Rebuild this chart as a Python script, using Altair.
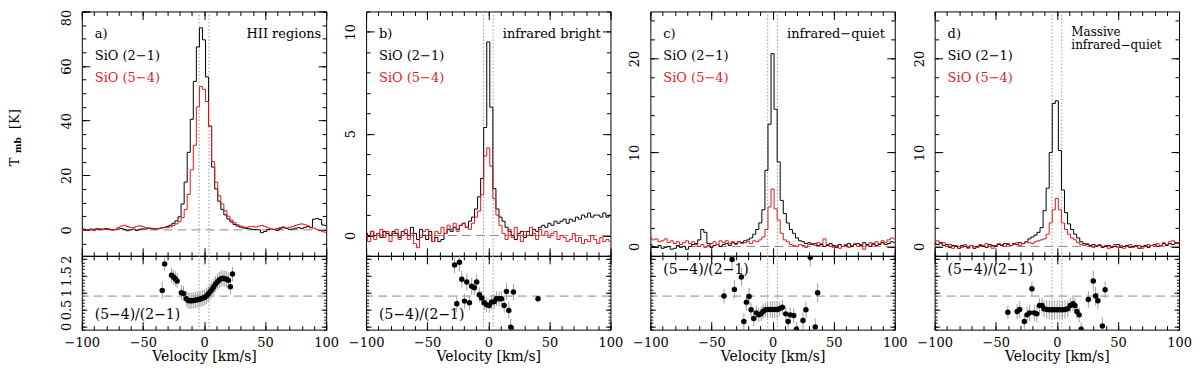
import altair as alt
import pandas as pd

# ---------------- data ----------------
VEL = [-100, -97.5, -95, -92.5, -90, -87.5, -85, -82.5, -80, -77.5, -75, -72.5,
       -70, -67.5, -65, -62.5, -60, -57.5, -55, -52.5, -50, -47.5, -45, -42.5,
       -40, -37.5, -35, -32.5, -30, -27.5, -25, -22.5, -20, -17.5, -15, -12.5,
       -10, -7.5, -5, -2.5, 0, 2.5, 5, 7.5, 10, 12.5, 15, 17.5, 20, 22.5, 25, 27.5,
       30, 32.5, 35, 37.5, 40, 42.5, 45, 47.5, 50, 52.5, 55, 57.5, 60, 62.5, 65, 67.5,
       70, 72.5, 75, 77.5, 80, 82.5, 85, 87.5, 90, 92.5, 95, 97.5, 100]

A21 = [0.4, 0.2, 0.1, 0.3, 0.2, 0.4, 0.1, 0.3, 0.5, 0.2, 0.0, 0.1,
       0.3, 0.5, 0.2, -0.3, 0.0, 0.3, -0.2, 0.2, 0.4, 0.3, 0.6, 0.4,
       0.3, 0.5, 0.7, 0.9, 1.2, 1.7, 2.4, 3.3, 4.8, 9.5, 17.5, 28.4,
       40.5, 54.4, 67.0, 74.0, 69.6, 56.0, 38.0, 23.0, 15.0, 10.5, 7.5, 5.5,
       4.0, 2.9, 2.0, 1.4, 1.0, 0.7, 0.5, 0.4, 0.2, 0.1, 0.0, -1.0,
       -0.6, 0.1, 0.3, 0.2, -0.2, 0.4, 0.9, 0.5, 0.2, 0.3, 0.6, 0.8,
       0.5, 0.9, 1.2, 0.8, 3.9, 4.2, 3.8, 1.8, 1.6]
A54 = [0.0, -0.2, 0.1, 0.0, -0.3, 0.2, 0.4, 0.1, 0.1, 0.3, 0.0, 0.2,
       0.9, 1.4, 1.7, 1.2, 0.8, 0.9, 1.3, 1.5, 1.2, 0.8, 0.7, 0.6,
       0.5, 0.4, 0.6, 0.8, 0.8, 1.1, 1.6, 2.2, 3.0, 4.5, 7.5, 13.0,
       22.0, 31.0, 45.0, 52.5, 51.5, 47.0, 38.0, 25.0, 17.5, 12.5, 9.5, 7.0,
       5.0, 3.6, 2.6, 1.9, 1.4, 1.1, 0.9, 1.2, 1.3, 1.0, 1.4, 1.6,
       1.3, 0.8, 0.3, 0.2, 0.5, 0.9, 1.1, 0.7, 0.9, 1.2, 1.6, 2.0,
       2.2, 1.9, 1.5, 1.0, 0.6, 0.2, -0.3, -0.7, -0.9]

B21 = [0.1, 0.0, 0.2, 0.0, 0.1, -0.1, 0.2, 0.1, 0.0, 0.2, 0.1, -0.1,
       0.2, 0.1, 0.0, 0.4, 0.1, -0.2, 0.3, 0.0, -0.2, 0.2, -0.3, -0.1,
       -0.3, -0.2, 0.1, 0.3, 0.2, 0.4, 0.3, 0.5, 0.6, 0.4, 0.7, 0.9,
       1.3, 1.9, 2.8, 5.3, 9.5, 6.3, 2.3, 1.3, 0.9, 0.7, 0.4, 0.2,
       0.0, -0.2, 0.1, 0.2, -0.1, 0.2, 0.0, 0.3, 0.2, 0.4, 0.5, 0.4,
       0.6, 0.5, 0.7, 0.6, 0.7, 0.8, 0.6, 0.8, 0.7, 0.9, 0.8, 1.0,
       0.9, 1.1, 0.9, 1.0, 1.0, 0.9, 1.1, 0.9, 1.0]
B54 = [0.0, -0.3, 0.2, -0.2, 0.1, 0.3, -0.1, 0.2, -0.3, 0.1, 0.3, -0.2,
       0.0, 0.3, -0.2, 0.1, -0.4, -0.6, -0.1, 0.2, 0.3, 0.0, -0.3, 0.2,
       0.1, 0.4, 0.1, 0.5, 0.3, 0.6, 0.2, 0.5, 0.6, 0.4, 0.3, 0.6,
       0.9, 1.2, 2.0, 3.9, 4.3, 3.4, 1.8, 1.0, 0.5, 0.1, -0.2, 0.3,
       -0.1, 0.4, 0.0, -0.3, 0.2, 0.0, 0.4, 0.1, -0.2, 0.3, 0.0, 0.2,
       -0.1, 0.1, 0.2, -0.2, 0.0, -0.1, -0.3, -0.2, 0.1, -0.3, -0.1, -0.4,
       -0.2, -0.3, 0.0, -0.2, -0.4, -0.1, -0.3, -0.2, -0.3]

C21 = [0.2, 0.0, -0.1, 0.1, -0.2, -0.1, 0.0, -0.3, -0.2, 0.1, -0.1, 0.0,
       -0.3, 0.0, 0.2, 0.3, 0.7, 1.8, 1.5, 0.3, -0.1, 0.1, 0.2, 0.0,
       0.2, 0.3, 0.1, 0.4, 0.3, 0.5, 0.4, 0.6, 0.7, 0.9, 1.3, 1.8,
       2.5, 3.9, 8.1, 13.0, 20.5, 14.6, 9.0, 4.9, 3.5, 2.5, 1.8, 1.4,
       0.9, 0.6, 0.5, 0.3, 0.4, 0.2, 0.3, 0.1, 0.2, 0.0, 0.1, 0.3,
       0.1, -0.1, 0.2, 0.0, 0.1, 0.3, 0.0, 0.2, 0.3, 0.1, 0.4, 0.2,
       0.0, 0.3, 0.1, 0.2, 0.4, 0.2, 0.3, 0.5, 0.4]
C54 = [0.9, 0.7, 0.8, 0.5, 0.6, 0.8, 0.4, 0.6, 0.3, 0.5, 0.2, 0.4,
       0.6, 0.3, 0.5, 0.2, 0.0, 0.2, -0.1, 0.1, 0.3, 0.5, 0.2, 0.6,
       0.4, 0.6, 0.3, 0.5, 0.2, 0.5, 0.3, 0.4, 0.5, 0.3, 0.6, 0.5,
       0.7, 1.0, 1.8, 4.2, 6.1, 4.0, 2.8, 1.4, 0.7, 0.5, 0.2, 0.1,
       0.0, 0.2, 0.1, -0.1, 0.2, 0.3, 0.1, 0.4, 0.3, 0.8, 0.2, 0.0,
       -0.1, 0.1, -0.2, 0.0, 0.2, -0.1, 0.1, 0.3, 0.0, 0.2, -0.3, 0.1,
       0.4, 0.2, 0.5, 0.3, 0.6, 0.4, 0.7, 0.9, 0.8]

D21 = [0.3, 0.2, 0.4, 0.1, 0.2, -0.1, 0.1, 0.0, -0.2, 0.1, 0.0, -0.1,
       0.1, -0.2, 0.0, 0.1, 0.0, -0.1, 0.2, 0.1, 0.0, 0.2, 0.1, 0.3,
       0.2, 0.1, 0.3, 0.2, 0.4, 0.3, 0.5, 0.8, 1.0, 1.2, 1.5, 2.0,
       3.8, 6.2, 10.0, 15.2, 15.5, 10.2, 6.0, 3.6, 2.4, 1.8, 1.3, 0.9,
       0.5, 0.3, 0.2, 0.1, 0.2, 0.0, 0.1, -0.1, 0.0, 0.1, -0.1, 0.0,
       0.2, -0.1, 0.0, 0.1, -0.1, 0.0, 0.1, -0.2, 0.0, 0.1, -0.1, 0.1,
       0.2, 0.0, 0.1, 0.3, 0.1, 0.3, 0.2, 0.4, 0.3]
D54 = [0.5, 0.6, 0.3, 0.4, 0.0, 0.2, -0.2, 0.1, 0.0, -0.1, 0.2, -0.2,
       0.1, 0.0, -0.1, 0.2, 0.1, 0.3, 0.0, -0.2, 0.1, 0.3, 0.2, 0.0,
       0.3, 0.1, 0.2, 0.4, 0.1, 0.3, 0.5, 0.4, 0.3, 0.5, 0.6, 0.7,
       0.8, 1.3, 2.5, 3.9, 5.1, 3.9, 2.5, 1.8, 1.3, 0.9, 0.7, 0.4,
       0.2, 0.1, 0.3, 0.0, -0.1, 0.1, 0.2, 0.0, 0.1, -0.2, 0.0, 0.2,
       -0.1, 0.1, -0.2, 0.0, 0.2, -0.1, 0.0, 0.1, -0.2, 0.0, 0.2, 0.1,
       0.0, 0.3, 0.1, 0.4, 0.2, 0.5, 0.6, 0.3, 0.4]

RA_V = [-34.2, -32.2, -26.6, -25.0, -23.5, -22.0, -18.5, -16.8, -14.5, -13.0, -11.5, -10.0,
        -8.5, -7.0, -5.5, -4.0, -2.5, -1.0, 0.5, 2.0, 3.5, 5.0, 6.5, 8.0,
        9.5, 11.0, 12.5, 14.0, 15.5, 17.0, 18.5, 20.0, 21.6, 23.3]
RA_R = [1.07, 1.86, 1.52, 1.47, 1.42, 1.35, 1.00, 0.98, 0.82, 0.77, 0.76, 0.76,
        0.77, 0.78, 0.79, 0.80, 0.82, 0.84, 0.86, 0.90, 0.96, 1.03, 1.10, 1.18,
        1.26, 1.33, 1.38, 1.42, 1.43, 1.42, 1.40, 1.37, 1.18, 1.56]
RA_E = [0.25, 0.20, 0.22, 0.22, 0.22, 0.22, 0.22, 0.22, 0.24, 0.24, 0.24, 0.24,
        0.24, 0.24, 0.24, 0.24, 0.24, 0.24, 0.24, 0.24, 0.24, 0.24, 0.24, 0.24,
        0.24, 0.24, 0.24, 0.24, 0.24, 0.24, 0.24, 0.24, 0.22, 0.22]

RB_V = [-27.6, -25.8, -23.6, -21.7, -19.5, -17.6, -15.4, -13.6, -11.4, -9.5, -7.3, -5.4,
        -3.3, -1.4, 0.8, 2.7, 4.9, 6.7, 8.9, 10.8, 13.0, 14.9, 16.8, 18.4, 20.6, 40.7]
RB_R = [1.83, 0.67, 1.91, 1.40, 0.75, 1.32, 0.70, 1.19, 1.15, 1.32, 0.94, 0.84,
        0.70, 0.64, 0.62, 0.72, 0.74, 0.82, 0.82, 0.82, 0.62, 1.04, 0.47, -0.03, 1.02, 0.82]
RB_E = [0.25, 0.25, 0.28, 0.25, 0.22, 0.25, 0.22, 0.25, 0.22, 0.22, 0.22, 0.22,
        0.22, 0.22, 0.22, 0.22, 0.22, 0.22, 0.22, 0.22, 0.22, 0.25, 0.25, 0.25, 0.25, 0.0]

RC_V = [-39.8, -33.1, -31.2, -25.5, -23.5, -21.4, -19.2, -17.6, -15.4, -13.3, -11.3, -9.4,
        -7.8, -5.9, -4.1, -1.9, -0.1, 1.8, 3.7, 5.6, 8.0, 10.8, 12.7, 14.5,
        17.3, 19.5, 24.9, 27.3, 30.9, 34.9, 36.9]
RC_R = [0.90, 1.99, 1.10, 1.47, 0.14, 0.72, 0.89, 0.49, 0.23, 0.40, 0.34, 0.37,
        0.44, 0.49, 0.50, 0.50, 0.50, 0.50, 0.50, 0.52, 0.57, 0.37, 0.14, 0.34,
        0.32, -0.09, 0.17, 0.49, 2.06, -0.02, 1.00]
RC_E = [0.22, 0.30, 0.28, 0.28, 0.25, 0.25, 0.25, 0.22, 0.22, 0.22, 0.22, 0.22,
        0.22, 0.22, 0.25, 0.25, 0.25, 0.25, 0.25, 0.22, 0.22, 0.22, 0.22, 0.22,
        0.22, 0.22, 0.25, 0.25, 0.28, 0.25, 0.28]

RD_V = [-40.1, -32.5, -30.4, -26.6, -24.4, -22.3, -20.4, -18.5, -16.4, -14.2, -12.1, -10.5,
        -8.3, -6.2, -4.0, -1.9, 0.3, 2.4, 4.6, 6.7, 8.9, 11.0, 13.2, 14.8,
        16.4, 18.3, 19.9, 25.8, 29.8, 31.7, 33.6, 37.3, 39.5]
RD_R = [0.42, 0.44, 0.50, 0.14, 0.34, 0.40, 1.12, 0.40, 0.37, 0.62, 0.62, 0.52,
        0.50, 0.49, 0.49, 0.49, 0.49, 0.49, 0.49, 0.50, 0.52, 0.62, 0.67, 0.62,
        0.44, 0.34, -0.09, 0.80, 1.35, 0.90, 0.76, 0.01, 1.09]
RD_E = [0.20, 0.22, 0.25, 0.22, 0.25, 0.25, 0.22, 0.25, 0.25, 0.22, 0.22, 0.25,
        0.28, 0.28, 0.28, 0.28, 0.28, 0.28, 0.28, 0.28, 0.25, 0.22, 0.22, 0.22,
        0.22, 0.22, 0.22, 0.25, 0.30, 0.28, 0.25, 0.25, 0.25]

PANEL_LETTERS = ["a)", "b)", "c)", "d)"]
SAMPLE_TEXT = [["HII regions"], ["infrared bright"], ["infrared\u2212quiet"],
               ["Massive", "infrared\u2212quiet"]]
LINE_21 = "SiO (2\u22121)"
LINE_54 = "SiO (5\u22124)"
RATIO_TEXT = "(5\u22124)/(2\u22121)"
X_TITLE = "Velocity [km/s]"

S21 = [A21, B21, C21, D21]
S54 = [A54, B54, C54, D54]
RV = [RA_V, RB_V, RC_V, RD_V]
RR = [RA_R, RB_R, RC_R, RD_R]
RE = [RA_E, RB_E, RC_E, RD_E]

YDOMS = [[-9.5, 80], [-1, 11], [-1, 25], [-1, 25]]
YMAJ = [[0, 20, 40, 60, 80], [0, 5, 10], [0, 10, 20], [0, 10, 20]]
YMIN = [[-5, 0, 5, 10, 15, 20, 25, 30, 35, 40, 45, 50, 55, 60, 65, 70, 75, 80],
        [-1, 0, 1, 2, 3, 4, 5, 6, 7, 8, 9, 10, 11],
        [0, 2, 4, 6, 8, 10, 12, 14, 16, 18, 20, 22, 24],
        [0, 2, 4, 6, 8, 10, 12, 14, 16, 18, 20, 22, 24]]
X_MAJOR = [-100, -50, 0, 50, 100]
X_MINOR = [-100, -90, -80, -70, -60, -50, -40, -30, -20, -10, 0, 10, 20, 30, 40,
           50, 60, 70, 80, 90, 100]
R_DOM = [-0.1, 2.1]
R_MAJOR = [0, 0.5, 1, 1.5, 2]
R_MINOR = [-0.1, 0, 0.1, 0.2, 0.3, 0.4, 0.5, 0.6, 0.7, 0.8, 0.9, 1.0, 1.1, 1.2,
           1.3, 1.4, 1.5, 1.6, 1.7, 1.8, 1.9, 2.0, 2.1]
V_MARK = [-4, 4]
ZERO = [0]
RATIO_REF = [0.9]

# ---------------- style ----------------
FONT = "DejaVu Serif"
RED = "#e3191c"
GREY = "#8a8a8a"
W, H_TOP, H_BOT = 245, 245, 74
NUM_LABEL = "replace('' + datum.value, '-', '\u2212')"


def sx():
    return alt.Scale(domain=[-100, 100], nice=False, zero=False)


def sy(dom):
    return alt.Scale(domain=dom, nice=False, zero=False)


def inward(n):
    return {"expr": str(-n)}


def frame_axes(df, yf, ydom, ymaj, ymin, ymaj_len, ymin_len, xlabels, ylabels,
               ylabel_expr=NUM_LABEL):
    layers = []
    combos = [("bottom", X_MAJOR, 8, "left", ymaj, ymaj_len, True),
              ("bottom", X_MINOR, 4, "left", ymin, ymin_len, False),
              ("top", X_MAJOR, 8, "right", ymaj, ymaj_len, False),
              ("top", X_MINOR, 4, "right", ymin, ymin_len, False)]
    for xo, xv, xl, yo, yv, yl, main in combos:
        xkw = dict(orient=xo, values=xv, tickSize=inward(xl), domain=False, grid=False,
                   tickColor="black", tickWidth=1, title=None, labels=False)
        if main and xlabels:
            xkw.update(labels=True, title=X_TITLE, labelPadding=xl + 7, labelFlush=False,
                       labelOverlap=False, labelExpr=NUM_LABEL, titlePadding=0)
        ykw = dict(orient=yo, values=yv, tickSize=inward(yl), domain=False, grid=False,
                   tickColor="black", tickWidth=1, title=None, labels=False)
        if main and ylabels:
            ykw.update(labels=True, labelAngle=270, labelAlign="center",
                       labelBaseline="bottom", labelPadding=yl + 8.5,
                       labelOverlap=False, labelExpr=ylabel_expr)
        layers.append(alt.Chart(df).mark_point(opacity=0).encode(
            x=alt.X("v:Q", scale=sx(), axis=alt.Axis(**xkw)),
            y=alt.Y(f"{yf}:Q", scale=sy(ydom), axis=alt.Axis(**ykw))))
    return layers


def text(t, x, y, color="black", align="left", size=13, weight="normal", angle=0,
         baseline="middle"):
    kw = dict(align=align, baseline=baseline, font=FONT, fontSize=size,
              fontWeight=weight, color=color)
    if angle:
        kw["angle"] = angle
    return alt.Chart(pd.DataFrame({"t": [t]})).mark_text(**kw).encode(
        text="t:N", x=alt.value(x), y=alt.value(y))


def top_panel(i):
    dom = YDOMS[i]
    df = pd.DataFrame({"v": VEL, "t21": S21[i], "t54": S54[i]})
    if i == 0:
        layers = frame_axes(df, "t21", dom, YMAJ[i], YMIN[i], 8, 4, False, True,
                            ylabel_expr="datum.value == 80 ? '' : '' + datum.value")
        layers.append(alt.Chart(df).mark_point(opacity=0).encode(
            x=alt.X("v:Q", scale=sx(), axis=None),
            y=alt.Y("t21:Q", scale=sy(dom), axis=alt.Axis(
                orient="left", values=[80], tickSize=inward(8), domain=False, grid=False,
                tickColor="black", labels=True, labelAngle=270, labelAlign="center",
                labelBaseline="bottom", labelPadding=16.5, labelOffset=6,
                labelOverlap=False, labelExpr="'' + datum.value", title=None))))
    else:
        layers = frame_axes(df, "t21", dom, YMAJ[i], YMIN[i], 8, 4, False, True)
    zero = alt.Chart(pd.DataFrame({"y": ZERO})).mark_rule(
        color=GREY, strokeDash=[9, 5], strokeWidth=1).encode(
        y=alt.Y("y:Q", scale=sy(dom), axis=None))
    vl = alt.Chart(pd.DataFrame({"v": V_MARK})).mark_rule(
        color="#9a9a9a", strokeDash=[1.5, 2], strokeWidth=1).encode(
        x=alt.X("v:Q", scale=sx(), axis=None))
    l21 = alt.Chart(df).mark_line(interpolate="step", color="black", strokeWidth=1,
                                  clip=True).encode(
        x=alt.X("v:Q", scale=sx(), axis=None),
        y=alt.Y("t21:Q", scale=sy(dom), axis=None))
    l54 = alt.Chart(df).mark_line(interpolate="step", color=RED, strokeWidth=1,
                                  clip=True).encode(
        x=alt.X("v:Q", scale=sx(), axis=None),
        y=alt.Y("t54:Q", scale=sy(dom), axis=None))
    texts = [text(PANEL_LETTERS[i], 13, 23), text(LINE_21, 13, 45),
             text(LINE_54, 13, 67, color=RED)]
    if i == 0:
        texts.append(text(SAMPLE_TEXT[0][0], 240, 23, align="right"))
        texts += [text("T", -67, 151, angle=270, align="center"),
                  text("mb", -64, 134, angle=270, align="center", size=9, weight="bold"),
                  text("[K]", -67, 108, angle=270, align="center")]
    elif i == 3:
        texts.append(text(SAMPLE_TEXT[3][0], 137, 21, size=12))
        texts.append(text(SAMPLE_TEXT[3][1], 137, 34, size=12))
    else:
        texts.append(text(SAMPLE_TEXT[i][0], 137, 23))
    return alt.layer(*layers, zero, vl, l21, l54, *texts).resolve_axis(
        x="independent", y="independent").properties(width=W, height=H_TOP)


def ratio_panel(i):
    df = pd.DataFrame({"v": RV[i], "r": RR[i]})
    df["lo"] = [r - e for r, e in zip(RR[i], RE[i])]
    df["hi"] = [r + e for r, e in zip(RR[i], RE[i])]
    layers = frame_axes(df, "r", R_DOM, R_MAJOR, R_MINOR, 5, 2.5, True, i == 0)
    ref = alt.Chart(pd.DataFrame({"y": RATIO_REF})).mark_rule(
        color=GREY, strokeDash=[9, 5], strokeWidth=1).encode(
        y=alt.Y("y:Q", scale=sy(R_DOM), axis=None))
    vl = alt.Chart(pd.DataFrame({"v": V_MARK})).mark_rule(
        color="#9a9a9a", strokeDash=[1.5, 2], strokeWidth=1).encode(
        x=alt.X("v:Q", scale=sx(), axis=None))
    err = alt.Chart(df).mark_rule(color="#a0a0a0", strokeWidth=1, clip=True).encode(
        x=alt.X("v:Q", scale=sx(), axis=None),
        y=alt.Y("lo:Q", scale=sy(R_DOM), axis=None), y2="hi:Q")
    pts = alt.Chart(df).mark_circle(size=30, color="black", opacity=1, clip=True).encode(
        x=alt.X("v:Q", scale=sx(), axis=None),
        y=alt.Y("r:Q", scale=sy(R_DOM), axis=None))
    ty = 59 if i < 2 else 14
    lab = text(RATIO_TEXT, 13, ty, size=14)
    return alt.layer(*layers, ref, vl, err, pts, lab).resolve_axis(
        x="independent", y="independent").properties(width=W, height=H_BOT)


charts = [top_panel(i) for i in range(4)] + [ratio_panel(i) for i in range(4)]

chart = alt.concat(*charts, columns=4, spacing={"row": 0, "column": 40},
                   bounds="flush").properties(
    padding={"left": 0, "right": 0, "top": 0, "bottom": 0}
).configure_view(stroke="black", strokeWidth=1).configure_axis(
    labelFont=FONT, labelFontSize=13, labelColor="black", titleFont=FONT,
    titleFontSize=14, titleFontWeight="normal", titleColor="black")

chart.save("out.html", embed_options={"renderer": "svg", "actions": False})
